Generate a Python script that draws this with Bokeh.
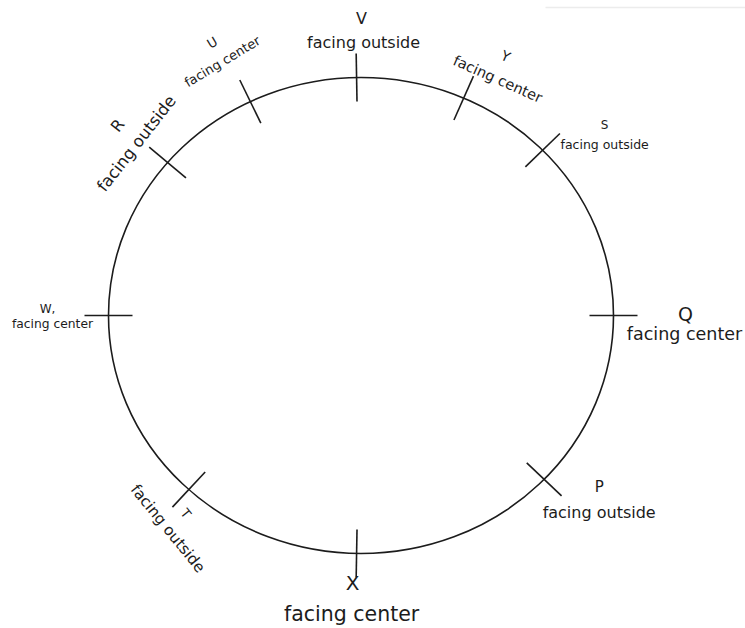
import numpy as np
from bokeh.plotting import figure
from bokeh.models import Range1d, ColumnDataSource
from bokeh.core.properties import value
from bokeh.embed import file_html
from bokeh.resources import INLINE

# ---------------- data ----------------
people = ["P", "Q", "R", "S", "T", "U", "V", "W", "X", "Y"]
name_labels = ["P", "Q", "R", "S", "T", "U", "V", "W,", "X", "Y"]
facing = ["facing outside", "facing center", "facing outside", "facing outside",
          "facing outside", "facing center", "facing outside", "facing center",
          "facing center", "facing center"]
seat_angle_deg = [316.5, 0, 140, 44, 227, 116, 91, 180, 269, 66]

# ---------------- layout / style ----------------
W, H = 745, 628
CX, CY, RX, RY = 360.5, 315.0, 252.5, 238.0
TICK_OUT, TICK_IN = 24, 24
name_dx = [55, 72, -50, 62, -3, -38, 5, -61, -4, 42]
name_dy = [8, -2, -37, -25, 24, -59, -59, -7, 30, -42]
face_dx = [55, 71, -31, 62, -21, -28, 7, -56, -5, 34]
face_dy = [33, 18, -19, -6, 39, -40, -35, 8, 61, -19]
label_rot = [0, 0, 52, 0, -51, 31, 0, 0, 0, -24]
name_size = [15, 19, 16, 12, 13, 13, 16, 12, 20, 14]
face_size = [16, 17.5, 16.5, 12.5, 15.3, 13, 16, 12.3, 20.5, 14.5]
INK = "#1c1c1c"
FONT = "DejaVu Sans"

p = figure(width=W, height=H, output_backend="svg", toolbar_location=None,
           x_range=Range1d(0, W), y_range=Range1d(H, 0),
           x_axis_location=None, y_axis_location=None, min_border=0)
p.grid.visible = False
p.outline_line_color = None
p.background_fill_color = "white"

# faint line at the top right
p.segment(x0=[545], y0=[7], x1=[W], y1=[7], line_color="#ececec", line_width=1.5)

# circle (ellipse)
p.ellipse(x=[CX], y=[CY], width=[2 * RX], height=[2 * RY], fill_color=None,
          line_color=INK, line_width=1.6)

# seat ticks
t = np.radians(seat_angle_deg)
px = CX + RX * np.cos(t)
py = CY - RY * np.sin(t)
nx = np.cos(t)
ny = -np.sin(t)
p.segment(x0=px - TICK_IN * nx, y0=py - TICK_IN * ny,
          x1=px + TICK_OUT * nx, y1=py + TICK_OUT * ny,
          line_color=INK, line_width=1.6)

# labels
lx = list(px + np.array(name_dx)) + list(px + np.array(face_dx))
ly = list(py + np.array(name_dy)) + list(py + np.array(face_dy))
src = ColumnDataSource(dict(
    x=lx, y=ly,
    text=name_labels + facing,
    ang=label_rot + label_rot,
    size=[f"{s}px" for s in name_size + face_size],
))
p.text(x="x", y="y", text="text", angle="ang", angle_units="deg", source=src,
       text_font=value(FONT), text_font_size="size", text_color=INK,
       text_align="center", text_baseline="middle")

open("out.html", "w").write(file_html(p, INLINE))
